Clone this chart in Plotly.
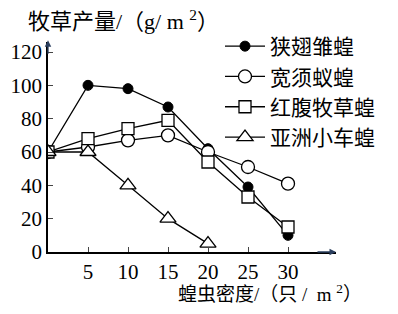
import plotly.graph_objects as go

density = [0, 5, 10, 15, 20, 25, 30]
names = ["狭翅雏蝗", "宽须蚁蝗", "红腹牧草蝗", "亚洲小车蝗"]
s1 = [60, 100, 98, 87, 62, 39, 10]
s2 = [60, 63, 67, 70, 60, 51, 41]
s3 = [60, 68, 74, 79, 54, 33, 15]
s4_x = [0, 5, 10, 15, 20]
s4 = [60, 60, 40, 20, 5]
y_ticks = [0, 20, 40, 60, 80, 100, 120]
x_ticks = [5, 10, 15, 20, 25, 30]

FONT = "Liberation Serif, Noto Sans CJK SC"

fig = go.Figure()
line = dict(color="black", width=1.3)
fig.add_trace(go.Scatter(x=density, y=s1, name=names[0], mode="lines+markers", line=line,
                         marker=dict(symbol="circle", size=10, color="black", line=dict(color="black", width=1))))
fig.add_trace(go.Scatter(x=density, y=s2, name=names[1], mode="lines+markers", line=line,
                         marker=dict(symbol="circle", size=13, color="white", line=dict(color="black", width=1.3))))
fig.add_trace(go.Scatter(x=density, y=s3, name=names[2], mode="lines+markers", line=line,
                         marker=dict(symbol="square", size=12, color="white", line=dict(color="black", width=1.3))))
fig.add_trace(go.Scatter(x=s4_x, y=s4, name=names[3], mode="lines+markers", line=line,
                         marker=dict(symbol="triangle-up", size=14, color="white", line=dict(color="black", width=1.3))))

fig.update_layout(
    width=398, height=314,
    margin=dict(l=48, r=62, t=42, b=62),
    plot_bgcolor="white", paper_bgcolor="white",
    font=dict(family=FONT, color="black", size=20),
    showlegend=True,
    legend=dict(x=(220 - 48) / 288, y=(252 - 26) / 210, xanchor="left", yanchor="top",
                bgcolor="rgba(0,0,0,0)", font=dict(size=21, family=FONT), tracegroupgap=0,
                itemwidth=40),
    xaxis=dict(range=[0, 36], tickvals=x_ticks, ticks="inside", ticklen=5, tickwidth=1.3,
               showline=True, linecolor="black", linewidth=1.5, showgrid=False, zeroline=False,
               tickfont=dict(size=21, family=FONT)),
    yaxis=dict(range=[0, 126], tickvals=y_ticks, ticks="inside", ticklen=5, tickwidth=1.3,
               showline=True, linecolor="black", linewidth=1.5, showgrid=False, zeroline=False,
               tickfont=dict(size=21, family=FONT)),
)

# axis arrows
fig.add_annotation(x=36, y=0, ax=33.5, ay=0, xref="x", yref="y", axref="x", ayref="y",
                   showarrow=True, arrowhead=2, arrowsize=1, arrowwidth=1.3, text="")
fig.add_annotation(x=0, y=127, ax=0, ay=118, xref="x", yref="y", axref="x", ayref="y",
                   showarrow=True, arrowhead=2, arrowsize=1, arrowwidth=1.3, text="")

# axis titles
fig.add_annotation(x=(26 - 48) / 288, y=(252 - 20) / 210, xref="paper", yref="paper",
                   xanchor="left", yanchor="middle", showarrow=False,
                   text="牧草产量/（g/ m <sup>2</sup>）", font=dict(size=22, family=FONT))
fig.add_annotation(x=(176 - 48) / 288, y=-(293 - 252) / 210, xref="paper", yref="paper",
                   xanchor="left", yanchor="middle", showarrow=False,
                   text="蝗虫密度/（只 /  m <sup>2</sup>）", font=dict(size=19, family=FONT))

fig.write_html("out.html")
